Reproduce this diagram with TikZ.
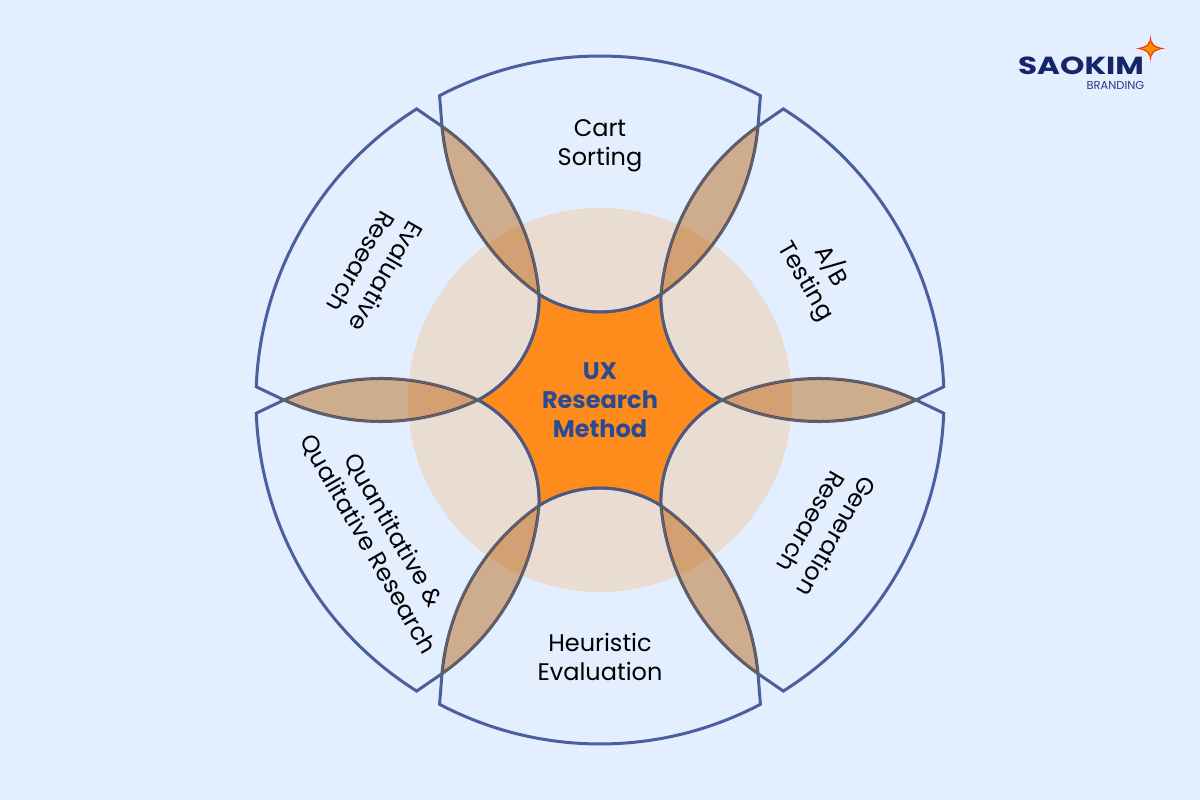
\documentclass[tikz,border=0pt]{standalone}
\usepackage{fontspec}
\setmainfont{Poppins}
\usetikzlibrary{calc}
\definecolor{bgcol}{HTML}{E3EEFF}
\definecolor{ringcol}{HTML}{E9DCD0}
\definecolor{linecol}{HTML}{4A5F9D}
\definecolor{lenscol}{RGB}{232,186,142}
\definecolor{lensedge}{HTML}{655F60}
\definecolor{staredge}{HTML}{50567E}
\definecolor{starcol}{HTML}{FD8C1C}
\definecolor{titlecol}{HTML}{2B4A94}
\definecolor{logocol}{HTML}{16246B}
\definecolor{logosub}{HTML}{2B3A8C}
\tikzset{
  petal/.style={draw=linecol,line width=3pt,miter limit=10},
  lens/.style={fill=lenscol,blend mode=multiply},
  lensline/.style={draw=lensedge,line width=2pt},
  label/.style={align=center,font=\fontsize{24}{29}\selectfont,text=black,inner sep=0pt},
  title/.style={align=center,font=\fontsize{24}{29}\selectfont\bfseries,text=titlecol,inner sep=0pt},
}
\begin{document}
\begin{tikzpicture}[x=1pt,y=1pt]
\path[use as bounding box,fill=bgcol] (-600,-400) rectangle (600,400);
% ring
\fill[ringcol] (0,0) circle (192);
% star
\fill[starcol] (0:122) foreach \a in {30,90,150,210,270,330} {
   .. controls ({\a-16.1}:85.5) and ({\a+16.1}:85.5) .. ({\a+30}:122) } -- cycle;
% petals
\foreach \a in {90,30,-30,-90,-150,150}{
  \draw[petal] ({\a+27.8}:344) -- ({\a+30}:316)
    .. controls ({\a+30-6.43}:256.1) and ({\a+30-8.89}:185.7) .. ({\a+30}:122)
    .. controls ({\a+16.1}:85.5) and ({\a-16.1}:85.5) .. ({\a-30}:122)
    .. controls ({\a-30+8.89}:185.7) and ({\a-30+6.43}:256.1) .. ({\a-30}:316)
    -- ({\a-27.8}:344) arc[start angle={\a-27.8},end angle={\a+27.8},radius=344] -- cycle;
}
% star edge, darker where it runs over the ring
\draw[staredge,line width=2.6pt] (0:122) foreach \a in {30,90,150,210,270,330} {
   .. controls ({\a-16.1}:85.5) and ({\a+16.1}:85.5) .. ({\a+30}:122) } -- cycle;
% lenses
\foreach \a in {0,60,...,300}{
  \path[lens] (\a:316)
    .. controls ({\a-6.43}:256.1) and ({\a-8.89}:185.7) .. (\a:122)
    .. controls ({\a+8.89}:185.7) and ({\a+6.43}:256.1) .. (\a:316) -- cycle;
  \path[lensline] (\a:316)
    .. controls ({\a-6.43}:256.1) and ({\a-8.89}:185.7) .. (\a:122)
    .. controls ({\a+8.89}:185.7) and ({\a+6.43}:256.1) .. (\a:316) -- cycle;
}
% labels
\node[title] (center) at (0,0) {UX\\Research\\Method};
\node[label] (cart) at (0,254.5) {Cart\\Sorting};
\node[label] (heur) at (0,-257) {Heuristic\\Evaluation};
\node[label,rotate=-60] (ab) at (30:253) {A/B\\Testing};
\node[label,rotate=-120] (gen) at (-30:259) {Generation\\Research};
\node[label,rotate=-120] (eval) at (150:261) {Evaluative\\Research};
\node[label,rotate=-60] (quant) at (212:259) {Quantitative \&\\Qualitative Research};
% logo
\node[inner sep=0pt,text=logocol,font=\fontsize{26}{26}\selectfont\bfseries] (logo) at (481,334) {\scalebox{1.195}[0.95]{SAOKIM}};
\node[inner sep=0pt,text=logosub,font=\fontsize{11.5}{11.5}\selectfont] (brand) at (515.5,315) {BRANDING};
\fill[red!60!orange] (550.5,366) .. controls (551,356) and (553,353.5) .. (565,351.5)
  .. controls (553,349.5) and (551,347) .. (550.5,337)
  .. controls (550,347) and (548,349.5) .. (536,351.5)
  .. controls (548,353.5) and (550,356) .. cycle;
\fill[orange!85!yellow] (550.5,360) .. controls (551,355) and (552.5,353) .. (560,351.5)
  .. controls (552.5,350) and (551,348) .. (550.5,343)
  .. controls (550,348) and (548.5,350) .. (541,351.5)
  .. controls (548.5,353) and (550,355) .. cycle;
\end{tikzpicture}
\end{document}
